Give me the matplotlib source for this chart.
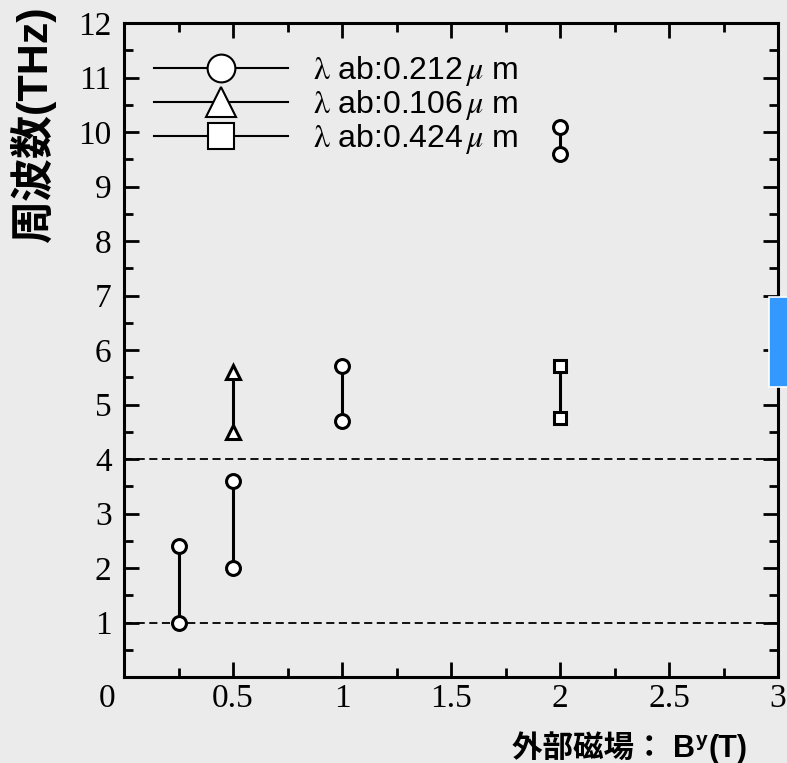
import matplotlib
matplotlib.use("Agg")
import matplotlib.pyplot as plt
from matplotlib.lines import Line2D
from matplotlib.patches import Rectangle
from matplotlib.ticker import MultipleLocator, FixedFormatter, FixedLocator

plt.rcParams['mathtext.fontset'] = 'stix'

# Resonance frequency ranges (THz) versus external field (T)
circle_field = [0.25, 0.5, 1.0, 2.0]
circle_low = [1.0, 2.0, 4.7, 9.6]
circle_high = [2.4, 3.6, 5.7, 10.1]

triangle_field = [0.5]
triangle_low = [4.5]
triangle_high = [5.6]

square_field = [2.0]
square_low = [4.75]
square_high = [5.7]

reference_levels = [1.0, 4.0]

legend_labels = [r"$\mathrm{\lambda}$ ab:0.212$\,\mu$ m",
                 r"$\mathrm{\lambda}$ ab:0.106$\,\mu$ m",
                 r"$\mathrm{\lambda}$ ab:0.424$\,\mu$ m"]

x_ticks = [0, 0.5, 1, 1.5, 2, 2.5, 3]
x_ticklabels = ["", "0.5", "1", "1.5", "2", "2.5", "3"]
y_ticks = list(range(0, 13))
y_ticklabels = [""] + [str(v) for v in range(1, 13)]

BG = '#ebebeb'
W, H = 787, 763
fig = plt.figure(figsize=(W / 100, H / 100), dpi=100, facecolor=BG)
ax = fig.add_axes([124 / W, 1 - 677 / H, (778 - 124) / W, (677 - 23) / H], facecolor=BG)

ax.set_xlim(0, 3)
ax.set_ylim(0, 12)

for lvl in reference_levels:
    ax.axhline(lvl, color='black', lw=1.3, linestyle=(0, (4.5, 2.5)), zorder=1)

def pairs(xs, lo, hi, marker, ms):
    for x, a, b in zip(xs, lo, hi):
        ax.plot([x, x], [a, b], color='black', lw=2.2, marker=marker, ms=ms,
                mfc='white', mec='black', mew=2.2, zorder=3, clip_on=False)

pairs(circle_field, circle_low, circle_high, 'o', 10)
pairs(triangle_field, triangle_low, triangle_high, '^', 10.5)
pairs(square_field, square_low, square_high, 's', 8.5)

# Axes frame and ticks
for s in ax.spines.values():
    s.set_linewidth(2.2)
ax.xaxis.set_major_locator(FixedLocator(x_ticks))
ax.xaxis.set_major_formatter(FixedFormatter(x_ticklabels))
ax.xaxis.set_minor_locator(MultipleLocator(0.25))
ax.yaxis.set_major_locator(FixedLocator(y_ticks))
ax.yaxis.set_major_formatter(FixedFormatter(y_ticklabels))
ax.yaxis.set_minor_locator(MultipleLocator(0.5))
ax.tick_params(which='both', direction='in', top=True, right=True, width=2.0)
ax.tick_params(which='major', length=11)
ax.tick_params(which='minor', length=6.5)
ax.tick_params(axis='x', which='major', pad=5)
ax.tick_params(axis='y', which='major', pad=9)
for lab in ax.get_xticklabels() + ax.get_yticklabels():
    lab.set_fontfamily('Liberation Serif')
    lab.set_fontsize(24)

# shared origin label
ax.annotate("0", xy=(0, 0), xycoords='data', xytext=(-12, -5), textcoords='offset points',
            ha='center', va='top', fontsize=24, family='Liberation Serif')

# Legend
handles = [
    Line2D([], [], color='black', lw=1.5, marker='o', ms=20, mfc='white', mec='black', mew=1.5),
    Line2D([], [], color='black', lw=1.5, marker='^', ms=22, mfc='white', mec='black', mew=1.5),
    Line2D([], [], color='black', lw=1.5, marker='s', ms=19, mfc='white', mec='black', mew=1.5),
]
ax.legend(handles, legend_labels, loc='upper left', bbox_to_anchor=(0.046, 0.953),
          frameon=False, handlelength=4.2, handletextpad=0.78,
          labelspacing=0.0, borderpad=0, borderaxespad=0,
          prop={'family': 'Liberation Sans', 'size': 23})

# Axis titles
fig.text(33 / W, 1 - 124 / H, "周波数(THz)", rotation=90, ha='center', va='center',
         fontsize=31, fontweight='bold', family=['Liberation Sans', 'Noto Sans CJK JP'])

xlabel_font = dict(fontweight='bold', family=['Liberation Sans', 'Noto Sans CJK JP'])
baseline = 1 - 757 / H
t1 = fig.text(512 / W, baseline, "外部磁場： B", ha='left', va='baseline',
              fontsize=22, **xlabel_font)
fig.canvas.draw()
x_end = t1.get_window_extent().x1 / W
t2 = fig.text(x_end + 1 / W, baseline + 11 / H, "y", ha='left', va='baseline',
              fontsize=15, **xlabel_font)
fig.canvas.draw()
x_end2 = t2.get_window_extent().x1 / W
fig.text(x_end2 + 1 / W, baseline, "(T)", ha='left', va='baseline',
         fontsize=22, **xlabel_font)

# side tab
fig.patches.append(Rectangle((769 / W, 1 - 387 / H), 20 / W, 90 / H, transform=fig.transFigure,
                             facecolor='#3399ff', edgecolor='white', lw=1.2, zorder=10))

fig.savefig("out.png", dpi=100, facecolor=BG)
